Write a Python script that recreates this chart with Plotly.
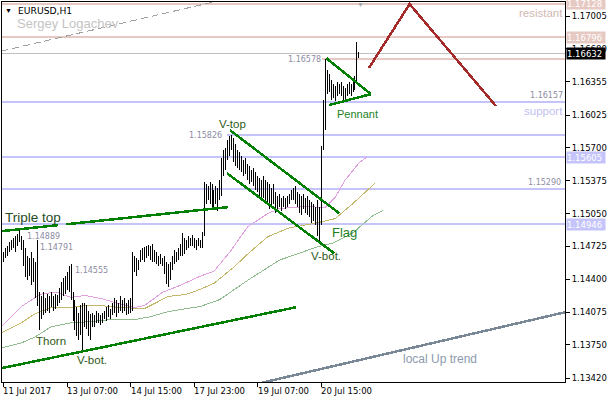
import plotly.graph_objects as go

# ---------------- data ----------------
# hourly bars, index 0 = 11 Jul 2017 23:00
highs = [1.1467, 1.1471, 1.1473, 1.1477, 1.1479, 1.1481, 1.1483, 1.1485, 1.1489, 1.1483,
         1.1479, 1.1471, 1.1463, 1.1461, 1.1467, 1.1461, 1.1457, 1.1479, 1.1427, 1.1423,
         1.1427, 1.1421, 1.1425, 1.1423, 1.1427, 1.1423, 1.1425, 1.1424, 1.1431, 1.1437,
         1.1441, 1.1443, 1.1447, 1.1453, 1.14555, 1.1427, 1.1419, 1.1413, 1.1407, 1.1415,
         1.1417, 1.1417, 1.1415, 1.1409, 1.1406, 1.1407, 1.1405, 1.1409, 1.1407, 1.1405,
         1.1407, 1.1409, 1.1413, 1.1415, 1.1411, 1.1417, 1.1421, 1.1419, 1.1417, 1.1423,
         1.1419, 1.1421, 1.1417, 1.1419, 1.1421, 1.1467, 1.1463, 1.1461, 1.1459, 1.1469,
         1.1471, 1.1472, 1.1473, 1.1474, 1.1473, 1.1475, 1.1469, 1.1467, 1.1463, 1.1465,
         1.1461, 1.1463, 1.1457, 1.1455, 1.1457, 1.1463, 1.1469, 1.1467, 1.1471, 1.1475,
         1.1486, 1.1481, 1.1479, 1.1483, 1.1481, 1.1484, 1.1481, 1.1479, 1.1481, 1.1479,
         1.1487, 1.1536, 1.1534, 1.1532, 1.1536, 1.1534, 1.1528, 1.1532, 1.1530, 1.1538,
         1.1560, 1.1568, 1.1570, 1.1578, 1.1582, 1.15826, 1.1580, 1.1574, 1.1568, 1.1566,
         1.1562, 1.1558, 1.1560, 1.1554, 1.1552, 1.1548, 1.1550, 1.1546, 1.1542, 1.1540,
         1.1538, 1.1542, 1.1538, 1.1536, 1.1534, 1.1530, 1.1534, 1.1526, 1.1522, 1.1524,
         1.1520, 1.1522, 1.1520, 1.1522, 1.1524, 1.1528, 1.1530, 1.1532, 1.1526, 1.1524,
         1.1522, 1.1524, 1.1520, 1.1522, 1.1518, 1.1516, 1.1514, 1.1512, 1.1518, 1.1512,
         1.1572, 1.1617, 1.16578, 1.1647, 1.1643, 1.1637, 1.1633, 1.1631, 1.1635, 1.1633,
         1.1635, 1.1631, 1.1629, 1.1633, 1.1635, 1.1633, 1.1637, 1.1641, 1.1675, 1.1665]
lows = [1.1457, 1.1461, 1.1463, 1.1467, 1.1469, 1.1471, 1.1467, 1.1473, 1.1477, 1.1469,
        1.1453, 1.1442, 1.1439, 1.1443, 1.1434, 1.1437, 1.1421, 1.1414, 1.1390, 1.1401,
        1.1405, 1.1407, 1.1409, 1.1407, 1.1413, 1.1409, 1.1411, 1.1414, 1.1417, 1.1419,
        1.1423, 1.1425, 1.1429, 1.1427, 1.1419, 1.1399, 1.1390, 1.1384, 1.1380, 1.1385,
        1.1369, 1.1393, 1.1391, 1.1384, 1.1380, 1.1393, 1.1393, 1.1397, 1.1397, 1.1395,
        1.1397, 1.1401, 1.1399, 1.1403, 1.1401, 1.1405, 1.1407, 1.1403, 1.1407, 1.1409,
        1.1407, 1.1409, 1.1405, 1.1406, 1.1407, 1.1409, 1.1447, 1.1443, 1.1449, 1.1457,
        1.1459, 1.1457, 1.1461, 1.1463, 1.1459, 1.1457, 1.1457, 1.1455, 1.1453, 1.1455,
        1.1453, 1.1445, 1.1435, 1.1432, 1.1439, 1.1449, 1.1455, 1.1457, 1.1459, 1.1463,
        1.1463, 1.1465, 1.1469, 1.1471, 1.1473, 1.1473, 1.1471, 1.1469, 1.1473, 1.1471,
        1.1471, 1.1483, 1.1514, 1.1518, 1.1514, 1.1510, 1.1512, 1.1514, 1.1508, 1.1518,
        1.1522, 1.1542, 1.1548, 1.1558, 1.1562, 1.1568, 1.1556, 1.1552, 1.1550, 1.1548,
        1.1546, 1.1542, 1.1544, 1.1538, 1.1534, 1.1536, 1.1532, 1.1528, 1.1526, 1.1522,
        1.1518, 1.1520, 1.1514, 1.1516, 1.1510, 1.1512, 1.1514, 1.1506, 1.1510, 1.1512,
        1.1508, 1.1512, 1.1510, 1.1512, 1.1514, 1.1518, 1.1518, 1.1514, 1.1512, 1.1506,
        1.1504, 1.1510, 1.1506, 1.1504, 1.1502, 1.1496, 1.1498, 1.1494, 1.1483, 1.1477,
        1.1494, 1.1568, 1.1588, 1.1623, 1.1625, 1.1617, 1.1619, 1.1616, 1.1621, 1.1623,
        1.1621, 1.1617, 1.1618, 1.1621, 1.1623, 1.1621, 1.1625, 1.1627, 1.1633, 1.1659]

x_tick_idx = [0, 32, 64, 96, 128, 160]
x_tick_text = ["11 Jul 2017", "13 Jul 07:00", "14 Jul 15:00", "17 Jul 23:00", "19 Jul 07:00", "20 Jul 15:00"]
y_tick_vals = [1.17005, 1.16680, 1.16355, 1.16025, 1.15700, 1.15375, 1.15050,
               1.14725, 1.14400, 1.14075, 1.13750, 1.13420]

# moving averages (shifted forward)
ma_pink_idx = [-1, 4, 9, 16, 20, 27, 34, 41, 49, 58, 66, 71, 76, 80, 89, 99, 106, 114, 123, 133, 139, 152, 162, 167, 172, 179, 183]
ma_pink_val = [1.1393, 1.1403, 1.1413, 1.1422, 1.1426, 1.1427, 1.1422, 1.1424, 1.1421, 1.1416, 1.1412, 1.1414, 1.1421, 1.1427,
               1.1434, 1.1443, 1.1448, 1.1467, 1.1492, 1.1505, 1.1510, 1.1512, 1.1511, 1.1521, 1.1538, 1.1555, 1.1561]
ma_khaki_idx = [-1, 9, 16, 24, 34, 41, 49, 59, 71, 76, 83, 92, 99, 106, 116, 123, 133, 144, 156, 167, 176, 187]
ma_khaki_val = [1.1387, 1.1397, 1.1406, 1.1412, 1.1412, 1.1414, 1.1414, 1.1412, 1.1411, 1.1416, 1.1423, 1.1425, 1.1430,
                1.1436, 1.1452, 1.1465, 1.1482, 1.1491, 1.1495, 1.1500, 1.1515, 1.1535]
ma_green_idx = [-1, 9, 16, 24, 34, 43, 54, 66, 74, 83, 92, 99, 109, 123, 139, 149, 158, 166, 176, 186, 191]
ma_green_val = [1.1372, 1.1377, 1.1383, 1.1393, 1.1397, 1.1398, 1.1400, 1.1400, 1.1403, 1.1408, 1.1411, 1.1413, 1.1420,
                1.1439, 1.1459, 1.1466, 1.1472, 1.1476, 1.1486, 1.1503, 1.1508]

# horizontal levels
resistance_levels = [1.17128, 1.16796]
support_levels = [1.16157, 1.15605, 1.15290, 1.14946]
spike_high = 1.16578
spike_high_idx = 160.5
vtop_high = 1.15826
vtop_idx = 112.5
current_price = 1.16632

# drawn trend lines (bar index, price)
triple_top_a_idx = [-1, 27.5];   triple_top_a_val = [1.14876, 1.14936]
triple_top_b_idx = [31.5, 113];  triple_top_b_val = [1.14944, 1.15114]
support_trend_idx = [-1, 147.5]; support_trend_val = [1.13520, 1.14124]
flag_upper_idx = [114, 169];     flag_upper_val = [1.15876, 1.15054]
flag_lower_idx = [112.5, 166.5]; flag_lower_val = [1.15450, 1.14658]
pennant_upper_idx = [162.5, 185]; pennant_upper_val = [1.16589, 1.16232]
pennant_lower_idx = [164, 185];   pennant_lower_val = [1.16124, 1.16232]
forecast_idx = [184, 204.5, 248]; forecast_val = [1.16490, 1.17123, 1.16114]
channel_top_idx = [-1, 110];      channel_top_val = [1.16658, 1.17163]
local_up_idx = [129, 283];        local_up_val = [1.13371, 1.14075]

# ---------------- figure ----------------
X_RANGE = [-0.75, 282.75]
Y_RANGE = [1.133835, 1.171435]

fig = go.Figure()

PINK = "#E6C9C3"
BLUE = "#C4C4FA"

shapes = []
for lv in resistance_levels:
    shapes.append(dict(type="line", xref="paper", yref="y", x0=0, x1=1, y0=lv, y1=lv,
                       line=dict(color=PINK, width=2), layer="below"))
shapes.append(dict(type="line", xref="x", yref="y", x0=spike_high_idx, x1=X_RANGE[1], y0=spike_high, y1=spike_high,
                   line=dict(color=PINK, width=2), layer="below"))
shapes.append(dict(type="line", xref="paper", yref="y", x0=0, x1=1, y0=current_price, y1=current_price,
                   line=dict(color="#C0C0C0", width=1), layer="below"))
for lv in support_levels:
    shapes.append(dict(type="line", xref="paper", yref="y", x0=0, x1=1, y0=lv, y1=lv,
                       line=dict(color=BLUE, width=2), layer="below"))
shapes.append(dict(type="line", xref="x", yref="y", x0=vtop_idx, x1=X_RANGE[1], y0=vtop_high, y1=vtop_high,
                   line=dict(color=BLUE, width=2), layer="below"))

# moving averages
for idx, val, col in [(ma_green_idx, ma_green_val, "#8FBC8F"),
                      (ma_khaki_idx, ma_khaki_val, "#C2B76A"),
                      (ma_pink_idx, ma_pink_val, "#E0A0E0")]:
    fig.add_trace(go.Scatter(x=idx, y=val, mode="lines", line=dict(color=col, width=1), hoverinfo="skip"))

# bars
bx, by = [], []
for i, (h, l) in enumerate(zip(highs, lows)):
    bx += [i, i, None]
    by += [l, h, None]
fig.add_trace(go.Scatter(x=bx, y=by, mode="lines", line=dict(color="black", width=1), hoverinfo="skip"))

# trend lines
GREEN = "#008000"
for idx, val, col, w, dash in [
    (channel_top_idx, channel_top_val, "#A0A0A0", 1, "7px,4px"),
    (local_up_idx, local_up_val, "#7A8796", 2.5, "solid"),
    (triple_top_a_idx, triple_top_a_val, GREEN, 2.5, "solid"),
    (triple_top_b_idx, triple_top_b_val, GREEN, 2.5, "solid"),
    (support_trend_idx, support_trend_val, GREEN, 2.5, "solid"),
    (flag_upper_idx, flag_upper_val, GREEN, 2.5, "solid"),
    (flag_lower_idx, flag_lower_val, GREEN, 2.5, "solid"),
    (pennant_upper_idx, pennant_upper_val, GREEN, 2.5, "solid"),
    (pennant_lower_idx, pennant_lower_val, GREEN, 2.5, "solid"),
    (forecast_idx, forecast_val, "#A52A2A", 2.5, "solid"),
]:
    fig.add_trace(go.Scatter(x=idx, y=val, mode="lines", line=dict(color=col, width=w, dash=dash), hoverinfo="skip"))

ann = []
def txt(x, y, text, color, size, family="Liberation Sans", xanchor="left", xref="x", yref="y", xshift=0, **kw):
    d = dict(x=x, y=y, xref=xref, yref=yref, text=text, showarrow=False, xanchor=xanchor, yanchor="middle",
             font=dict(family=family, size=size, color=color), xshift=xshift, borderpad=0)
    d.update(kw)
    ann.append(d)

LBL = "#8C8CA4"
DG = "#2E5A18"
txt(2.5, 1.17059, "▼", "black", 7, xanchor="center")
txt(7.0, 1.17059, "EURUSD,H1", "black", 9.2, family="DejaVu Sans")
txt(6.5, 1.16935, "Sergey Logachev", "#C4C4C4", 13)
txt(1, 1.17034, "resistant", "#D2B8B3", 11.5, xanchor="right", xref="paper", xshift=-1)
txt(1, 1.16223, "1.16157", LBL, 8, family="DejaVu Sans", xanchor="right", xref="paper", xshift=-1)
txt(1, 1.16064, "support", "#C0C0F2", 11.5, xanchor="right", xref="paper", xshift=-1)
txt(1, 1.15356, "1.15290", LBL, 8, family="DejaVu Sans", xanchor="right", xref="paper", xshift=-3)
txt(spike_high_idx, 1.16570, "1.16578", LBL, 8, family="DejaVu Sans", xanchor="right")
txt(110.5, 1.15822, "1.15826", LBL, 8, family="DejaVu Sans", xanchor="right")
txt(108, 1.15935, "V-top", DG, 11.5)
txt(167.5, 1.16034, "Pennant", "#1E7F1E", 11)
txt(165, 1.14866, "Flag", "#1E7F1E", 13)
txt(154.5, 1.14629, "V-bot.", DG, 11.5)
txt(0.5, 1.15015, "Triple top", "#1F4A1F", 13.5)
txt(11.5, 1.14827, "1.14889", LBL, 8, family="DejaVu Sans")
txt(18, 1.14713, "1.14791", LBL, 8, family="DejaVu Sans")
txt(35.5, 1.14490, "1.14555", LBL, 8, family="DejaVu Sans")
txt(16, 1.13792, "Thorn", DG, 11.5)
txt(36.5, 1.13599, "V-bot.", DG, 11.5)
txt(200.5, 1.13614, "local Up trend", "#8C9AAE", 12)
txt(180, 1.17123, "▼", "#A8A8A8", 7, xanchor="center")

# x-axis labels (left aligned at ticks)
for i, t in zip(x_tick_idx, x_tick_text):
    ann.append(dict(x=i, y=0, xref="x", yref="paper", text=t, showarrow=False, xanchor="left", yanchor="top",
                    yshift=-3, xshift=-1, font=dict(family="DejaVu Sans", size=8.5, color="black"), borderpad=0))

# highlighted price labels on the right scale
for lv, bg in [(1.17128, PINK), (1.16796, PINK), (current_price, "black"), (1.15605, BLUE), (1.14946, BLUE)]:
    ann.append(dict(x=1, y=lv, xref="paper", yref="y", text=f"{lv:.5f}", showarrow=False, xanchor="left",
                    yanchor="middle", xshift=1, bgcolor=bg, width=38, height=11, align="left",
                    font=dict(family="DejaVu Sans", size=8.5, color="white"), borderpad=0))

fig.update_layout(
    width=608, height=400,
    margin=dict(l=1, r=40, t=2, b=18),
    paper_bgcolor="white", plot_bgcolor="white",
    showlegend=False,
    shapes=shapes, annotations=ann,
    xaxis=dict(range=X_RANGE, showgrid=False, zeroline=False, showline=True, linecolor="black", linewidth=1,
               mirror=True, ticks="outside", tickvals=x_tick_idx, ticklen=4, tickcolor="black",
               showticklabels=False, fixedrange=True),
    yaxis=dict(range=Y_RANGE, side="right", showgrid=False, zeroline=False, showline=True, linecolor="black",
               linewidth=1, mirror=True, ticks="outside", tickvals=y_tick_vals,
               ticktext=[f"{v:.5f}" for v in y_tick_vals], ticklen=4, tickcolor="black",
               tickfont=dict(family="DejaVu Sans", size=8.5, color="black"), fixedrange=True),
)

post = ("document.body.style.margin='0px';document.body.style.overflow='hidden';"
        "document.querySelectorAll('.scatterlayer path, .shapelayer path').forEach(function(p){"
        "p.style.shapeRendering='crispEdges';});")
fig.write_html("out.html", config={"displayModeBar": False}, post_script=post)
